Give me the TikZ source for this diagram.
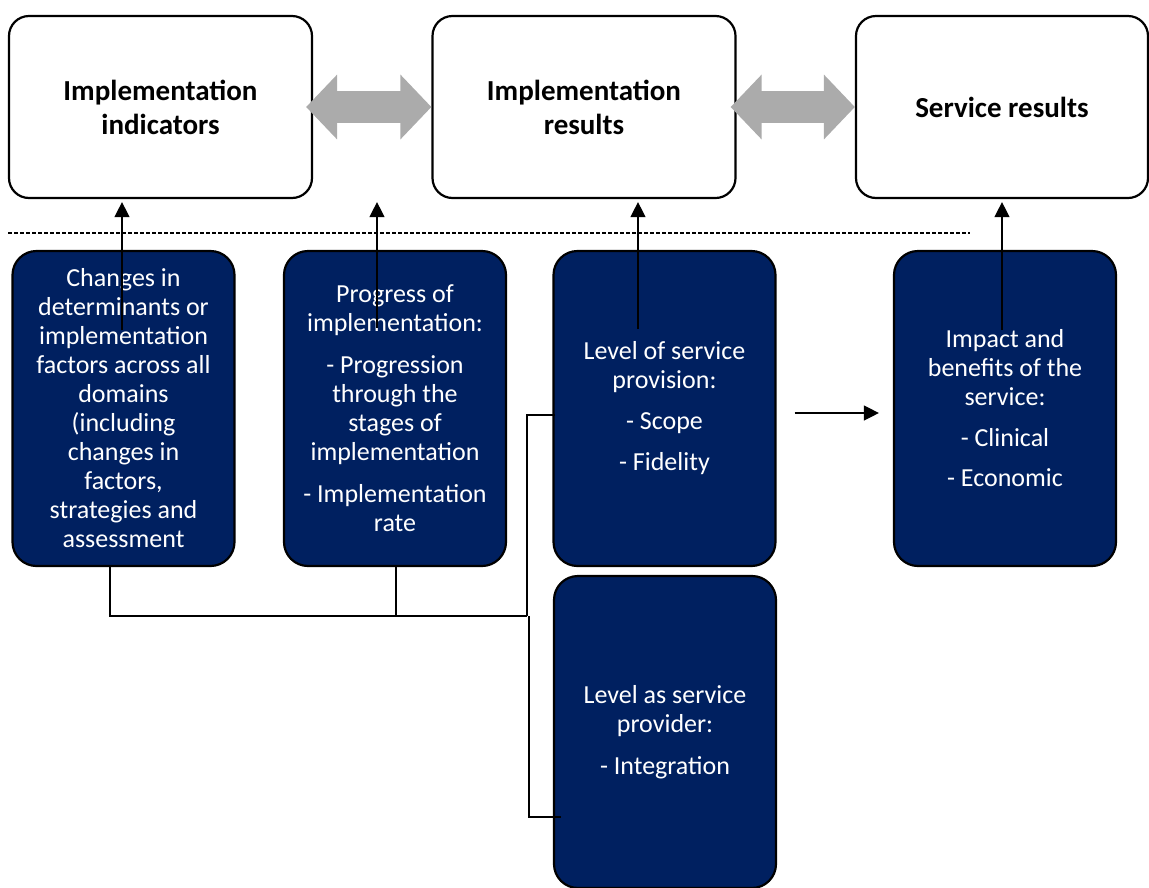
\documentclass[tikz,border=0pt]{standalone}
\usepackage{fontspec}
\setmainfont{Carlito}
\usetikzlibrary{arrows.meta}
\definecolor{navy}{HTML}{002060}
\definecolor{arrowgray}{HTML}{ABABAB}

\begin{document}
\begin{tikzpicture}[x=1pt,y=-1pt,
    topbox/.style={draw,line width=2.2pt,rounded corners=20pt,minimum width=303pt,minimum height=182pt,align=center,font=\fontsize{29}{34}\selectfont\bfseries},
    bluebox/.style={draw,fill=navy,line width=2.2pt,rounded corners=24pt,minimum width=222pt,minimum height=315pt,align=center,text=white,font=\fontsize{26}{29}\selectfont},
    wide/.style={line width=32pt,arrowgray,{Triangle[length=31pt,width=63pt]}-{Triangle[length=31pt,width=63pt]}},
    pointer/.style={line width=1.3pt,-{Triangle[length=15pt,width=15pt]}},
    link/.style={line width=1.1pt}]

    \clip (0,0) rectangle (1149,887);

    % top row
    \node[topbox] (ind) at (160.5,107) {Implementation\\indicators};
    \node[topbox] (res) at (584,107) {Implementation\\results};
    \node[topbox,minimum width=292pt] (srv) at (1002,107) {Service results};

    \draw[wide] ([xshift=-7pt]ind.east) -- (res.west);
    \draw[wide] ([xshift=-6pt]res.east) -- (srv.west);

    \draw[line width=1.3pt,dash pattern=on 4pt off 2pt] (8,233) -- (970,233);

    % blue boxes
    \node[bluebox] (chg) at (123.5,408.5) {Changes in\\determinants or\\implementation\\factors across all\\domains\\(including\\changes in\\factors,\\strategies and\\assessment};
    \node[bluebox] (prg) at (395,408.5) {Progress of\\implementation:\\[13pt]- Progression\\through the\\stages of\\implementation\\[13pt]- Implementation\\rate};
    \node[bluebox] (lvl) at (664.5,408.5) {Level of service\\provision:\\[12pt]- Scope\\[12pt]- Fidelity};
    \node[bluebox] (imp) at (1005,408.5) {Impact and\\benefits of the\\service:\\[12pt]- Clinical\\[11pt]- Economic};
    \node[bluebox,minimum height=312pt] (prv) at (665,732) {Level as service\\provider:\\[13pt]- Integration};

    % arrows up
    \coordinate (c1) at (122,330);
    \coordinate (c2) at (377,328);
    \coordinate (c3) at (638,329);
    \coordinate (c4) at (1002,330);
    \draw[pointer] (c1) -- ([yshift=-3pt]ind.south -| c1);
    \draw[pointer] (c2) -- ([yshift=-3pt]ind.south -| c2);
    \draw[pointer] (c3) -- ([yshift=-3pt]res.south -| c3);
    \draw[pointer] (c4) -- ([yshift=-3pt]srv.south -| c4);

    \draw[pointer] ([shift={(18,4.5)}]lvl.east) -- ([shift={(-14,4.5)}]imp.west);

    % connectors
    \coordinate (jn) at (527,616);
    \draw[link] ([xshift=-13.5pt]chg.south) |- (jn);
    \draw[link] ([xshift=1pt]prg.south) -- ([xshift=1pt]prg.south |- jn);
    \draw[link] (jn) |- ([shift={(3,6.5)}]lvl.west);
    \draw[link] ([xshift=2pt]jn) |- ([shift={(8,85)}]prv.west);
\end{tikzpicture}
\end{document}
